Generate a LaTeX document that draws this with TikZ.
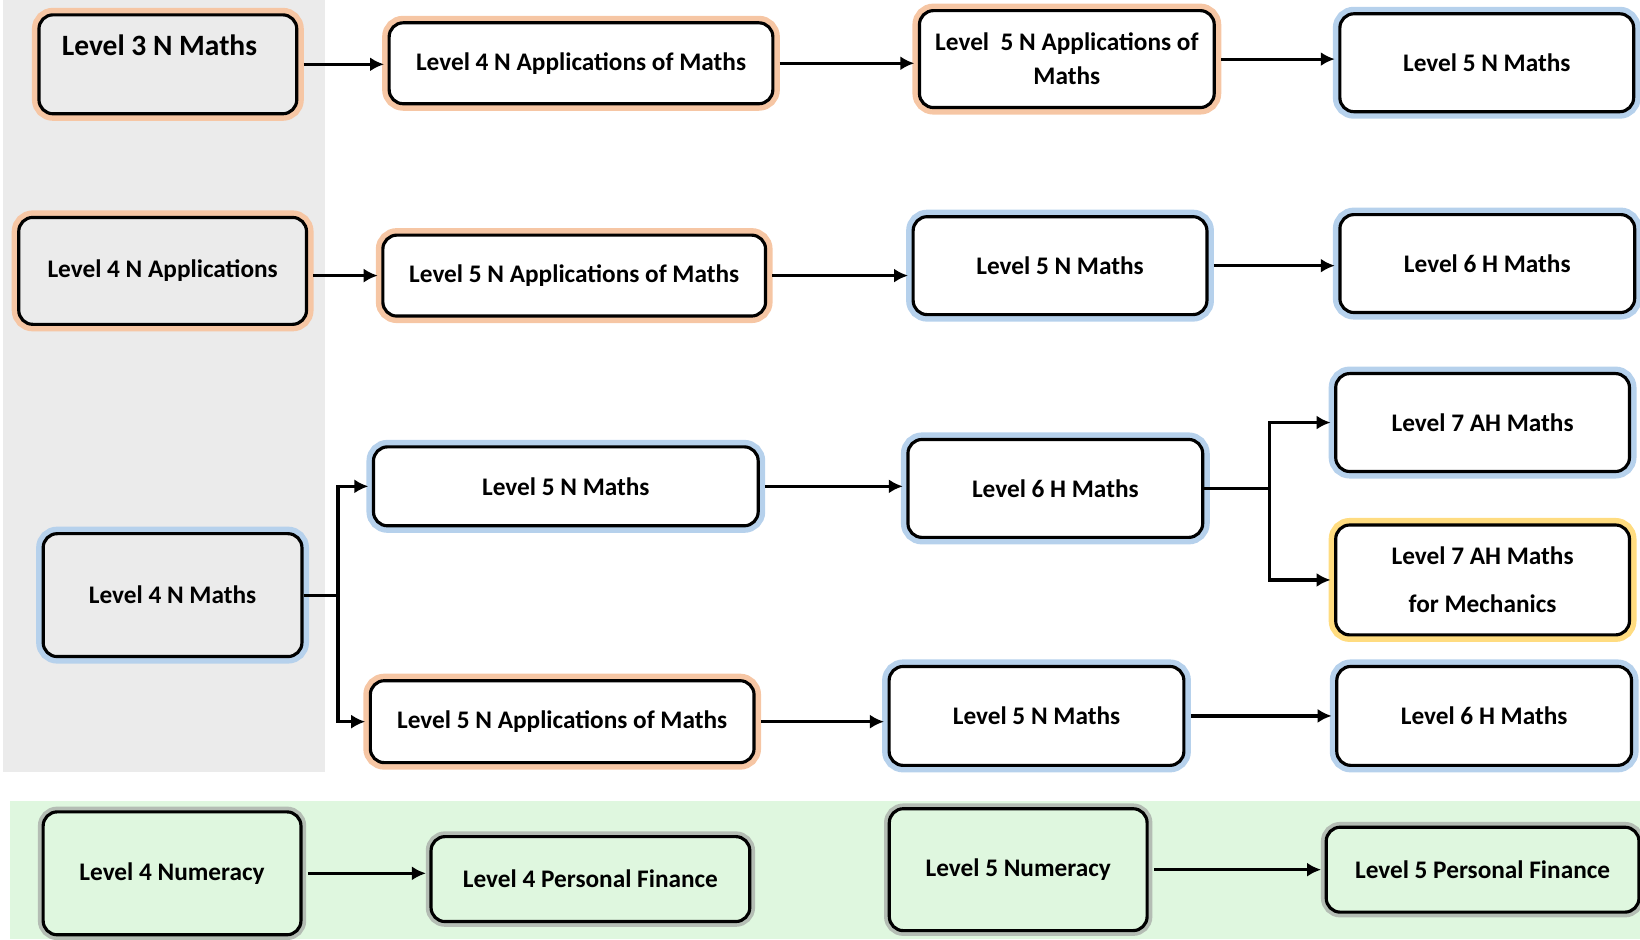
\documentclass[tikz,border=0pt]{standalone}
\usepackage{fontspec}
\setmainfont{Carlito}
\usetikzlibrary{arrows.meta}

\definecolor{greybg}{HTML}{EBEBEB}
\definecolor{greenbg}{HTML}{DFF7DF}
\definecolor{orglow}{HTML}{F6C6A4}
\definecolor{blglow}{HTML}{B6D1EC}
\definecolor{yeglow}{HTML}{FFDC80}
\definecolor{grglow}{HTML}{B4BDB4}

\tikzset{
  box/.style={draw, rectangle, rounded corners=4pt, line width=0.9pt, align=center, inner sep=1pt,
    font=\bfseries\fontsize{7.2}{9.7}\selectfont},
  orangebox/.style={box, fill=white, preaction={draw=orglow, line width=4pt}},
  bluebox/.style={box, fill=white, preaction={draw=blglow, line width=4pt}},
  yellowbox/.style={box, fill=white, preaction={draw=yeglow, line width=4pt}},
  greenbox/.style={box, fill=greenbg, preaction={draw=grglow, line width=3pt}},
  arr/.style={-{Latex[length=4pt,width=4pt]}, line width=0.9pt, shorten <=1.5pt, shorten >=1pt},
  branch/.style={-{Latex[length=4pt,width=4pt]}, line width=0.9pt, shorten >=1pt}
}

\begin{document}
\begin{tikzpicture}[x=0.01046cm, y=-0.01046cm]
  \useasboundingbox (0,0) rectangle (1568,898);
  \fill[greybg] (3,0) rectangle (311,738);
  \fill[greenbg] (10,766) rectangle (1568,898);

  % row 1
  \node[orangebox, fill=greybg, minimum width=2.58cm, minimum height=0.99cm] (l3nm) at (160.5,61.5)
    {\raisebox{2.6pt}[0pt][0pt]{\hspace*{-4.8pt}\fontsize{8.4}{10}\selectfont Level 3 N Maths}};
  \node[orangebox, minimum width=3.84cm, minimum height=0.81cm] (l4nam) at (555.5,60.5) {Level 4 N Applications of Maths};
  \node[orangebox, minimum width=2.95cm, minimum height=0.97cm] (l5nama) at (1020,56.5) {Level~ 5 N Applications of\\Maths};
  \node[bluebox, minimum width=2.94cm, minimum height=0.98cm] (l5nma) at (1421.5,60) {Level 5 N Maths};

  % row 2
  \node[orangebox, fill=greybg, minimum width=2.88cm, minimum height=1.07cm] (l4na) at (155.5,259) {Level 4 N Applications};
  \node[orangebox, minimum width=3.83cm, minimum height=0.81cm] (l5namb) at (549,263.5) {Level 5 N Applications of Maths};
  \node[bluebox, minimum width=2.94cm, minimum height=0.98cm] (l5nmb) at (1013.5,254) {Level 5 N Maths};
  \node[bluebox, minimum width=2.95cm, minimum height=0.98cm] (l6hmb) at (1422,252) {Level 6 H Maths};

  % row 3 and 4
  \node[bluebox, fill=greybg, minimum width=2.59cm, minimum height=1.23cm] (l4nm) at (165,569) {Level 4 N Maths};
  \node[bluebox, minimum width=3.85cm, minimum height=0.79cm] (l5nmc) at (541,465) {Level 5 N Maths};
  \node[bluebox, minimum width=2.95cm, minimum height=0.98cm] (l6hmc) at (1009,467) {Level 6 H Maths};
  \node[bluebox, minimum width=2.94cm, minimum height=0.98cm] (l7ah) at (1417.5,404) {Level 7 AH Maths};
  \node[yellowbox, minimum width=2.94cm, minimum height=1.10cm] (l7mech) at (1417.5,554.5) {Level 7 AH Maths\\[4pt]for Mechanics};
  \node[orangebox, minimum width=3.84cm, minimum height=0.82cm] (l5namd) at (537.5,690) {Level 5 N Applications of Maths};
  \node[bluebox, minimum width=2.95cm, minimum height=0.99cm] (l5nmd) at (991,684.5) {Level 5 N Maths};
  \node[bluebox, minimum width=2.95cm, minimum height=0.99cm] (l6hmd) at (1419,684.5) {Level 6 H Maths};

  % numeracy
  \node[greenbox, minimum width=2.58cm, minimum height=1.23cm] (l4num) at (164.5,835) {Level 4 Numeracy};
  \node[greenbox, minimum width=3.19cm, minimum height=0.85cm] (l4pf) at (564.5,840.5) {Level 4 Personal Finance};
  \node[greenbox, minimum width=2.58cm, minimum height=1.22cm] (l5num) at (973.5,831.5) {Level 5 Numeracy};
  \node[greenbox, minimum width=3.13cm, minimum height=0.85cm] (l5pf) at (1417.5,831.5) {Level 5 Personal Finance};

  \draw[arr] (l3nm.east) -- (l3nm.east -| l4nam.west);
  \draw[arr] (l4nam.east) -- (l4nam.east -| l5nama.west);
  \draw[arr] (l5nama.east) -- (l5nama.east -| l5nma.west);

  \draw[arr] (l4na.east |- l5namb.west) -- (l5namb.west);
  \draw[arr] (l5namb.east) -- (l5namb.east -| l5nmb.west);
  \draw[arr] (l5nmb.east) -- (l5nmb.east -| l6hmb.west);

  \draw[branch] (l4nm.east) -- ++(33,0) |- (l5nmc.west);
  \draw[branch] (l4nm.east) -- ++(33,0) |- (l5namd.west);
  \draw[arr] (l5nmc.east) -- (l5nmc.east -| l6hmc.west);
  \draw[branch] (l6hmc.east) -- ++(62,0) |- (l7ah.west);
  \draw[branch] (l6hmc.east) -- ++(62,0) |- (l7mech.west);
  \draw[arr] (l5namd.east) -- (l5namd.east -| l5nmd.west);
  \draw[arr] (l5nmd.east) -- (l5nmd.east -| l6hmd.west);

  \draw[arr] (l4num.east) -- (l4num.east -| l4pf.west);
  \draw[arr] (l5num.east) -- (l5num.east -| l5pf.west);
\end{tikzpicture}
\end{document}
